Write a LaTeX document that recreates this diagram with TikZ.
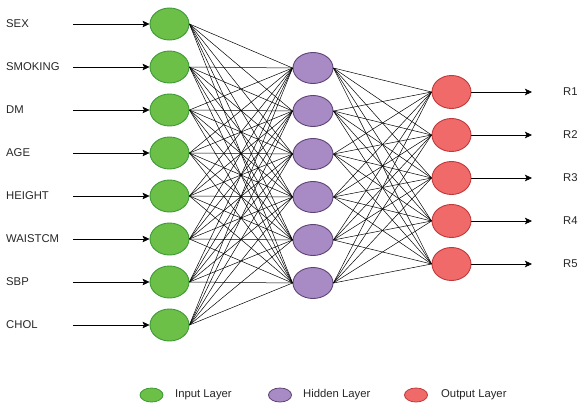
\documentclass[tikz,border=0pt]{standalone}
\usepackage{fontspec}
\setmainfont{Liberation Sans}
\usetikzlibrary{shapes.geometric,arrows.meta}

\definecolor{ingreen}{HTML}{6CBF47}
\definecolor{ingreenline}{HTML}{3E9A36}
\definecolor{hidpurple}{HTML}{A88BC4}
\definecolor{hidpurpleline}{HTML}{5E4375}
\definecolor{outred}{HTML}{F06A6A}
\definecolor{outredline}{HTML}{C0393B}

\tikzset{
	neuron/.style={ellipse, inner sep=0pt, line width=0.9pt},
	inputnode/.style={neuron, draw=ingreenline, fill=ingreen, minimum width=39pt, minimum height=32pt},
	hiddennode/.style={neuron, draw=hidpurpleline, fill=hidpurple, minimum width=40pt, minimum height=31pt},
	outputnode/.style={neuron, draw=outredline, fill=outred, minimum width=39pt, minimum height=33pt},
	legendnode/.style={ellipse, inner sep=0pt, line width=0.8pt, minimum width=23pt, minimum height=14pt},
	lbl/.style={anchor=west, inner sep=0pt, text=black!85, font=\fontsize{11.3}{13}\selectfont},
	weight/.style={line width=0.5pt, black},
	feed/.style={line width=0.6pt, black, -{Stealth[length=7pt, width=6.5pt, inset=1.5pt]}}
}

\begin{document}
\begin{tikzpicture}[x=1pt, y=-1pt]
	\useasboundingbox (0,0) rectangle (579,408);

	% Input layer
	\foreach \name [count=\i] in {SEX, SMOKING, DM, AGE, HEIGHT, WAISTCM, SBP, CHOL} {
		\pgfmathsetmacro{\yy}{24 + 43*(\i-1)}
		\node[inputnode] (i\i) at (169.5, \yy) {};
		\coordinate (s\i) at (73, \yy);
		\node[lbl] (l\i) at (6, \yy) {\name};
		\draw[feed] (s\i) -- (i\i);
	}

	% Hidden layer
	\foreach \i in {1,...,6} {
		\node[hiddennode] (h\i) at (313, 68 + 43*\i - 43) {};
	}

	% Output layer
	\foreach \i in {1,...,5} {
		\pgfmathsetmacro{\yy}{92 + 43*(\i-1)}
		\node[outputnode] (o\i) at (451.5, \yy) {};
		\coordinate (r\i) at (532, \yy);
		\node[lbl] (lr\i) at (563, \yy) {R\i};
		\draw[feed] (o\i) -- (r\i);
	}

	% Weights
	\foreach \i in {1,...,8} {
		\foreach \j in {1,...,6} {
			\draw[weight] (i\i.east) -- (h\j.west);
		}
	}
	\foreach \j in {1,...,6} {
		\foreach \k in {1,...,5} {
			\draw[weight] (h\j.east) -- (o\k.west);
		}
	}

	% Legend
	\node[legendnode, draw=ingreenline, fill=ingreen] (lg1) at (151.5, 395) {};
	\node[lbl] (lt1) at (175, 395) {Input Layer};
	\node[legendnode, draw=hidpurpleline, fill=hidpurple] (lg2) at (280, 395) {};
	\node[lbl] (lt2) at (303, 395) {Hidden Layer};
	\node[legendnode, draw=outredline, fill=outred] (lg3) at (416, 395) {};
	\node[lbl] (lt3) at (441, 395) {Output Layer};
\end{tikzpicture}
\end{document}
